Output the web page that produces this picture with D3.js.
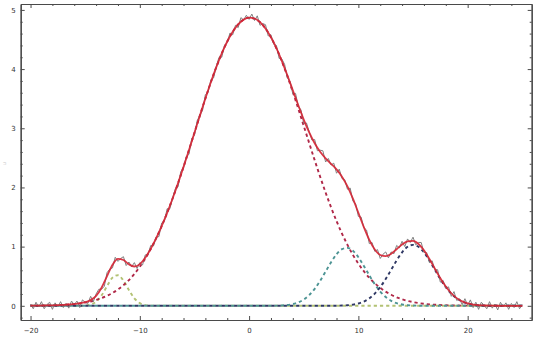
<!DOCTYPE html>
<html>
<head>
<meta charset="utf-8">
<script src="https://cdn.jsdelivr.net/npm/d3@7"></script>
<style>
  body { margin: 0; background: #fff; }
  svg { display: block; }
</style>
</head>
<body>
<div id="chart"></div>
<script>
// measured signal, sampled every 0.25 from -20 to 25
const dataStart = -20, dataStep = 0.25;
const dataY = [
  0.03, -0.05, 0.06, -0.02,   0.07, -0.05, 0.02, 0.06,
  -0.06, 0.05, -0.02, 0.07,   -0.03, 0.04, -0.04, 0.08,
  0.02, 0.08, -0.03, 0.10,    0.06, 0.04, 0.16, 0.07,
  0.20, 0.28, 0.28, 0.33,     0.56, 0.62, 0.64, 0.82,
  0.75, 0.80, 0.83, 0.68,     0.74, 0.66, 0.73, 0.63,
  0.73, 0.69, 0.86, 0.87,     1.02, 1.01, 1.16, 1.17,
  1.40, 1.43, 1.64, 1.64,     1.82, 1.98, 2.01, 2.27,
  2.33, 2.52, 2.56, 2.83,     2.88, 3.13, 3.22, 3.31,
  3.57, 3.61, 3.82, 3.85,     4.05, 4.20, 4.20, 4.40,
  4.45, 4.61, 4.58, 4.74,     4.70, 4.87, 4.83, 4.91,
  4.84, 4.93, 4.82, 4.90,     4.74, 4.77, 4.75, 4.56,
  4.58, 4.42, 4.40, 4.18,     4.17, 4.08, 3.85, 3.79,
  3.58, 3.59, 3.37, 3.31,     3.08, 3.09, 2.94, 2.80,
  2.81, 2.62, 2.63, 2.62,     2.43, 2.49, 2.38, 2.41,
  2.24, 2.31, 2.15, 2.13,     1.97, 1.99, 1.77, 1.72,
  1.51, 1.50, 1.32, 1.28,     1.05, 1.07, 0.92, 0.95,
  0.80, 0.87, 0.91, 0.81,     0.91, 0.88, 1.02, 0.98,
  1.09, 1.00, 1.13, 1.07,     1.16, 1.03, 1.07, 1.07,
  0.90, 0.90, 0.73, 0.76,     0.61, 0.61, 0.40, 0.43,
  0.30, 0.32, 0.16, 0.24,     0.09, 0.12, 0.02, 0.12,
  0.01, 0.10, -0.03, 0.06,    -0.06, 0.06, 0.01, -0.05,
  0.07, -0.04, 0.03, -0.07,   0.06, -0.02, 0.05, -0.06,
  0.04, -0.03, 0.07, -0.05,   0.02
];

// fitted total, every 0.5 from -20 to 25
const fitStart = -20, fitStep = 0.5;
const fitY = [
  0.002, 0.003, 0.004, 0.006, 0.008, 0.011, 0.016, 0.022, 0.030, 0.042,
  0.061, 0.096, 0.169, 0.306, 0.500, 0.693, 0.793, 0.774, 0.701, 0.664,
  0.704, 0.812, 0.963, 1.142, 1.346, 1.569, 1.813, 2.073, 2.348, 2.633,
  2.924, 3.216, 3.503, 3.777, 4.034, 4.266, 4.466, 4.631, 4.756, 4.836,
  4.869, 4.855, 4.793, 4.686, 4.538, 4.353, 4.136, 3.896, 3.643, 3.389,
  3.147, 2.930, 2.748, 2.604, 2.493, 2.400, 2.305, 2.182, 2.018, 1.810,
  1.572, 1.330, 1.115, 0.952, 0.859, 0.840, 0.879, 0.955, 1.035, 1.090,
  1.097, 1.045, 0.938, 0.791, 0.627, 0.466, 0.325, 0.212, 0.130, 0.075,
  0.041, 0.021, 0.010, 0.005, 0.002, 0.001, 0, 0, 0, 0, 0
];

// fitted components
const smallPeakX = [-20, -16, -15.5, -15, -14.5, -14, -13.5, -13, -12.5, -12, -11.5, -11, -10.5, -10, -9.5, -9, -8.5, -8, 25];
const smallPeakY = [0, 0.0001, 0.0009, 0.005, 0.021, 0.070, 0.176, 0.332, 0.476, 0.517, 0.426, 0.266, 0.126, 0.045, 0.012, 0.0025, 0.0004, 0, 0];

const mainPeakX = [-20, -19, -18, -17, -16, -15, -14, -13, -12, -11, -10, -9, -8, -7, -6, -5, -4, -3, -2, -1, 0,
  1, 2, 3, 4, 5, 6, 7, 8, 9, 10, 11, 12, 13, 14, 15, 16, 17, 18, 19, 20, 21, 22, 23, 24, 25];
const mainPeakY = [0.0018, 0.0038, 0.0079, 0.0157, 0.0302, 0.0557, 0.0988, 0.1684, 0.2757, 0.4349, 0.659, 0.960,
  1.346, 1.813, 2.348, 2.924, 3.503, 4.034, 4.466, 4.756, 4.869, 4.793, 4.537, 4.130, 3.614, 3.041, 2.461, 1.915,
  1.432, 1.030, 0.712, 0.474, 0.303, 0.1866, 0.1103, 0.0626, 0.0342, 0.018, 0.0091, 0.0044, 0.0021, 0.001,
  0.0004, 0.0002, 0.0001, 0];

const shoulderPeakX = [-20, 1.5, 2, 2.5, 3, 3.5, 4, 4.5, 5, 5.5, 6, 6.5, 7, 7.5, 8, 8.5, 9, 9.5, 10, 10.5, 11,
  11.5, 12, 12.5, 13, 13.5, 14, 14.5, 15, 15.5, 16, 25];
const shoulderPeakY = [0, 0.0003, 0.001, 0.0025, 0.006, 0.0138, 0.0294, 0.0579, 0.1063, 0.181, 0.287, 0.4225,
  0.578, 0.736, 0.871, 0.957, 0.979, 0.930, 0.821, 0.674, 0.515, 0.365, 0.241, 0.148, 0.084, 0.0446, 0.022,
  0.010, 0.0043, 0.0017, 0.0006, 0];

const rightPeakX = [-20, 8, 8.5, 9, 9.5, 10, 10.5, 11, 11.5, 12, 12.5, 13, 13.5, 14, 14.5, 15, 15.5, 16, 16.5,
  17, 17.5, 18, 18.5, 19, 19.5, 20, 20.5, 21, 21.5, 22, 25];
const rightPeakY = [0, 0.0016, 0.004, 0.0091, 0.0193, 0.0385, 0.0718, 0.1257, 0.2057, 0.3154, 0.4528, 0.6087,
  0.7662, 0.9031, 0.9967, 1.03, 0.9967, 0.9031, 0.7662, 0.6087, 0.4528, 0.3154, 0.2057, 0.1257, 0.0718,
  0.0385, 0.0193, 0.0091, 0.004, 0.0016, 0];

const xMajor = [-20, -10, 0, 10, 20];
const yMajor = [0, 1, 2, 3, 4, 5];

const width = 540, height = 343;
const frame = { left: 20.7, right: 531.7, top: 4, bottom: 320 };

const x = d3.scaleLinear().domain([-20.9, 25.86]).range([frame.left, frame.right]);
const y = d3.scaleLinear().domain([-0.24, 5.1]).range([frame.bottom, frame.top]);

const xMinor = d3.range(-20, 26, 2).filter((v) => !xMajor.includes(v));
const yMinor = d3.range(-0.2, 5.05, 0.2).map((v) => +v.toFixed(1)).filter((v) => !yMajor.includes(v));

const svg = d3
  .select("#chart")
  .append("svg")
  .attr("width", width)
  .attr("height", height);

svg.append("defs")
  .append("clipPath")
  .attr("id", "plotClip")
  .append("rect")
  .attr("x", frame.left)
  .attr("y", frame.top)
  .attr("width", frame.right - frame.left)
  .attr("height", frame.bottom - frame.top);

const plot = svg.append("g").attr("clip-path", "url(#plotClip)");

const line = d3
  .line()
  .x((d) => x(d[0]))
  .y((d) => y(d[1]))
  .curve(d3.curveMonotoneX);

const components = [
  { xs: smallPeakX, ys: smallPeakY, color: "#b3c274", offset: 0 },
  { xs: mainPeakX, ys: mainPeakY, color: "#b02848", offset: 2 },
  { xs: shoulderPeakX, ys: shoulderPeakY, color: "#4d9494", offset: 4 },
  { xs: rightPeakX, ys: rightPeakY, color: "#2f3864", offset: 1 },
];

plot
  .selectAll("path.component")
  .data(components)
  .join("path")
  .attr("class", "component")
  .attr("fill", "none")
  .attr("stroke", (d) => d.color)
  .attr("stroke-width", 1.9)
  .attr("stroke-dasharray", "3.2,3")
  .attr("stroke-dashoffset", (d) => d.offset)
  .attr("d", (d) => line(d.xs.map((v, i) => [v, d.ys[i]])));

// raw data
plot
  .append("path")
  .attr("fill", "none")
  .attr("stroke", "#808080")
  .attr("stroke-width", 1)
  .attr("d", d3.line().x((d) => x(d[0])).y((d) => y(d[1]))(
    dataY.map((v, i) => [dataStart + i * dataStep, v])
  ));

// fitted sum
plot
  .append("path")
  .attr("fill", "none")
  .attr("stroke", "#d42333")
  .attr("stroke-width", 1.8)
  .attr("stroke-opacity", 0.9)
  .attr("d", line(fitY.map((v, i) => [fitStart + i * fitStep, v])));

// frame with inward ticks
const frameColor = "#4a4a4a";
const fmt = (d) => (d < 0 ? "\u2212" + Math.abs(d) : d);

function styleAxis(g) {
  g.select(".domain").attr("stroke", frameColor).attr("stroke-width", 1.2);
  g.selectAll(".tick line").attr("stroke", frameColor);
  g.selectAll("text")
    .attr("font-family", "DejaVu Sans, sans-serif")
    .attr("font-size", 7)
    .attr("fill", "#333");
}

svg.append("g")
  .attr("transform", `translate(0,${frame.bottom})`)
  .call(d3.axisBottom(x).tickValues(xMajor).tickSizeInner(-4).tickSizeOuter(0).tickPadding(8).tickFormat(fmt))
  .call(styleAxis);
svg.append("g")
  .attr("transform", `translate(0,${frame.bottom})`)
  .call(d3.axisBottom(x).tickValues(xMinor).tickSizeInner(-2).tickSizeOuter(0).tickFormat(""))
  .call(styleAxis);

svg.append("g")
  .attr("transform", `translate(0,${frame.top})`)
  .call(d3.axisTop(x).tickValues(xMajor).tickSizeInner(-4).tickSizeOuter(0).tickFormat(""))
  .call(styleAxis);
svg.append("g")
  .attr("transform", `translate(0,${frame.top})`)
  .call(d3.axisTop(x).tickValues(xMinor).tickSizeInner(-2).tickSizeOuter(0).tickFormat(""))
  .call(styleAxis);

svg.append("g")
  .attr("transform", `translate(${frame.left},0)`)
  .call(d3.axisLeft(y).tickValues(yMajor).tickSizeInner(-4).tickSizeOuter(0).tickPadding(5).tickFormat(fmt))
  .call(styleAxis);
svg.append("g")
  .attr("transform", `translate(${frame.left},0)`)
  .call(d3.axisLeft(y).tickValues(yMinor).tickSizeInner(-2).tickSizeOuter(0).tickFormat(""))
  .call(styleAxis);

svg.append("g")
  .attr("transform", `translate(${frame.right},0)`)
  .call(d3.axisRight(y).tickValues(yMajor).tickSizeInner(-4).tickSizeOuter(0).tickFormat(""))
  .call(styleAxis);
svg.append("g")
  .attr("transform", `translate(${frame.right},0)`)
  .call(d3.axisRight(y).tickValues(yMinor).tickSizeInner(-2).tickSizeOuter(0).tickFormat(""))
  .call(styleAxis);

// faint axis label on the left
svg.append("text")
  .attr("transform", `translate(6,${y(2.4)}) rotate(-90)`)
  .attr("text-anchor", "middle")
  .attr("font-family", "DejaVu Sans, sans-serif")
  .attr("font-size", 5)
  .attr("fill", "#c8c8c8")
  .text("u");
</script>
</body>
</html>
